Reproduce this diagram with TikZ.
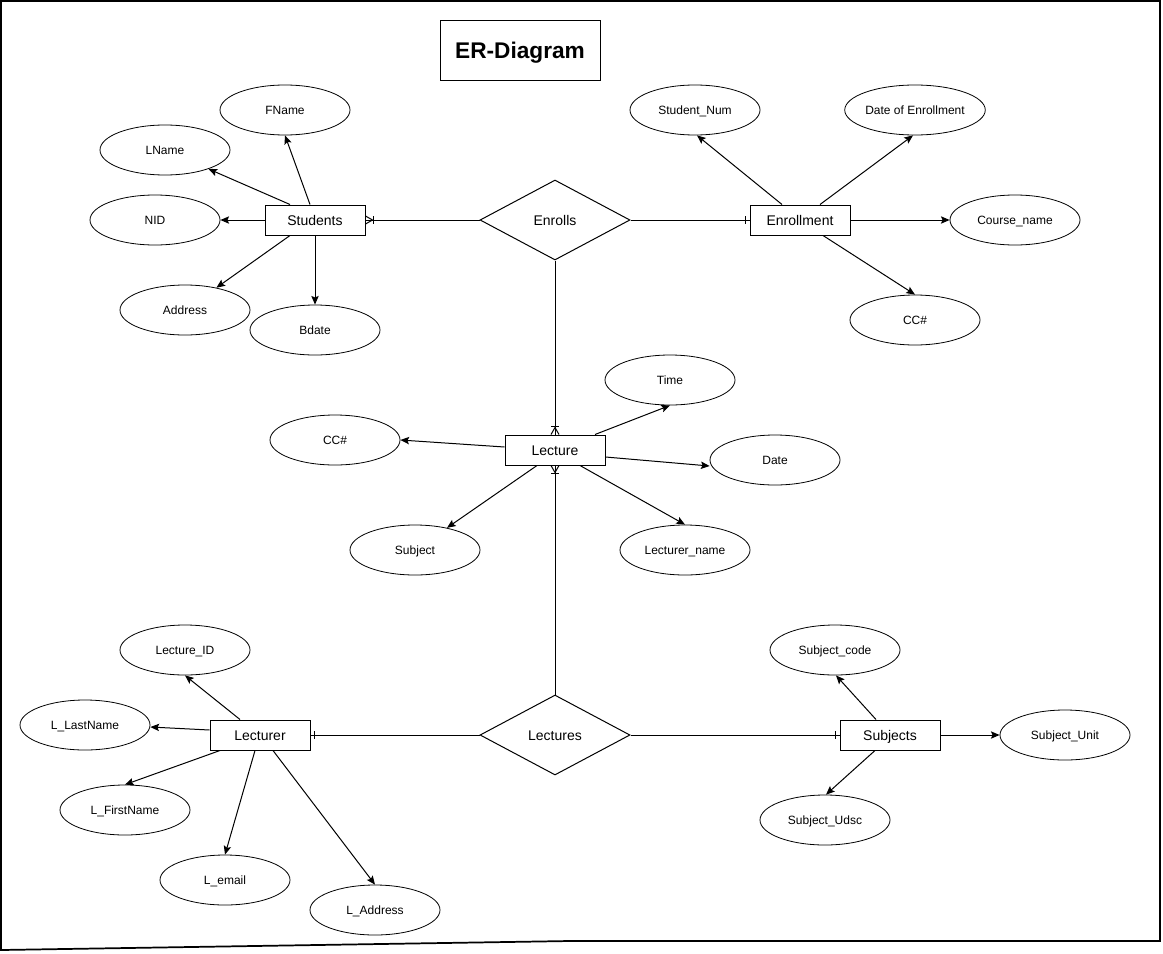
\documentclass[tikz,border=0pt]{standalone}
\usepackage{fontspec}
\setmainfont{Liberation Sans}
\usetikzlibrary{shapes.geometric,arrows.meta,calc}
\begin{document}
\begin{tikzpicture}[x=0.75pt,y=-0.75pt,
  ent/.style={draw, rectangle, minimum width=75pt, minimum height=22.5pt, inner sep=0pt, line width=0.75pt, text height=7.6pt, text depth=0pt, font=\fontsize{10.5}{12}\selectfont},
  attr/.style={draw, ellipse, minimum width=97.5pt, minimum height=37.5pt, inner sep=0pt, line width=0.6pt, text height=6.5pt, text depth=0pt, font=\fontsize{9}{11}\selectfont},
  rel/.style={draw, diamond, minimum width=112.5pt, minimum height=60pt, inner sep=0pt, line width=0.75pt, text height=7.6pt, text depth=0pt, font=\fontsize{10.5}{12}\selectfont},
  arr/.style={-{Stealth[length=6.5pt,width=5.5pt,inset=1.2pt]}, line width=0.75pt},
  lnk/.style={line width=0.75pt},
  ermk/.style={line width=0.75pt},
]
\useasboundingbox (0,0) rectangle (1163,953);
% outer frame
\draw[line width=1.3pt] (1,950) -- (570,941) -- (1160,941) -- (1160,1) -- (1,1) -- cycle;

% title
\node[draw, line width=0.75pt, minimum width=120pt, minimum height=45pt, inner sep=0pt, text height=12.3pt, text depth=0pt, font=\bfseries\fontsize{17}{20}\selectfont] (title) at (520,50) {ER-Diagram};

% entities
\node[ent] (stu) at (315,220) {Students};
\node[ent] (enm) at (800,220) {Enrollment};
\node[ent] (lec) at (555,450) {Lecture};
\node[ent] (ltr) at (260,735) {Lecturer};
\node[ent] (sub) at (890,735) {Subjects};

% relationships
\node[rel] (enr) at (555,220) {Enrolls};
\node[rel] (lcs) at (555,735) {Lectures};

% attributes
\node[attr] (fname) at (285,110) {FName};
\node[attr] (lname) at (165,150) {LName};
\node[attr] (nid) at (155,220) {NID};
\node[attr] (addr) at (185,310) {Address};
\node[attr] (bdate) at (315,330) {Bdate};

\node[attr] (snum) at (695,110) {Student\_Num};
\node[attr] (doe) at (915,110) {Date of Enrollment};
\node[attr] (cname) at (1015,220) {Course\_name};
\node[attr] (cca) at (915,320) {CC\#};

\node[attr] (time) at (670,380) {Time};
\node[attr] (ccb) at (335,440) {CC\#};
\node[attr] (date) at (775,460) {Date};
\node[attr] (subj) at (415,550) {Subject};
\node[attr] (lname2) at (685,550) {Lecturer\_name};

\node[attr] (lid) at (185,650) {Lecture\_ID};
\node[attr] (llast) at (85,725) {L\_LastName};
\node[attr] (lfirst) at (125,810) {L\_FirstName};
\node[attr] (lemail) at (225,880) {L\_email};
\node[attr] (laddr) at (375,910) {L\_Address};

\node[attr] (scode) at (835,650) {Subject\_code};
\node[attr] (sunit) at (1065,735) {Subject\_Unit};
\node[attr] (sudsc) at (825,820) {Subject\_Udsc};

% attribute arrows: Students
\draw[arr] ([shift={(-5,0)}]stu.north) -- (fname.south);
\draw[arr] ([shift={(-25,0)}]stu.north) -- (lname);
\draw[arr] (stu.west) -- (nid.east);
\draw[arr] ([shift={(-25,0)}]stu.south) -- (addr);
\draw[arr] (stu.south) -- (bdate.north);

% Enrollment
\draw[arr] ([shift={(-18,0)}]enm.north) -- ([shift={(2,0)}]snum.south);
\draw[arr] ([shift={(20,0)}]enm.north) -- ([shift={(-2,0)}]doe.south);
\draw[arr] (enm.east) -- (cname.west);
\draw[arr] ([shift={(23,0)}]enm.south) -- (cca.north);

% Lecture
\draw[arr] ([shift={(40,0)}]lec.north) -- (time.south);
\draw[arr] ([shift={(0,-3)}]lec.west) -- (ccb.east);
\draw[arr] ([shift={(0,7)}]lec.east) -- ([shift={(0,6)}]date.west);
\draw[arr] ([shift={(-18,0)}]lec.south) -- (subj);
\draw[arr] ([shift={(25,0)}]lec.south) -- (lname2.north);

% Lecturer
\draw[arr] ([shift={(-20,0)}]ltr.north) -- (lid.south);
\draw[arr] ([shift={(0,-5)}]ltr.west) -- ([shift={(0,2)}]llast.east);
\draw[arr] ([shift={(-40,0)}]ltr.south) -- (lfirst.north);
\draw[arr] ([shift={(-5,0)}]ltr.south) -- (lemail.north);
\draw[arr] ([shift={(13,0)}]ltr.south) -- (laddr.north);

% Subjects
\draw[arr] ([shift={(-14,0)}]sub.north) -- ([shift={(1,0)}]scode.south);
\draw[arr] (sub.east) -- (sunit.west);
\draw[arr] ([shift={(-15,0)}]sub.south) -- ([shift={(1,0)}]sudsc.north);

% relationship links
\draw[lnk] (enr.west) -- (stu.east);
\draw[lnk] (enr.east) -- (enm.west);
\draw[lnk] (enr.south) -- (lec.north);
\draw[lnk] (lcs.north) -- (lec.south);
\draw[lnk] (lcs.west) -- (ltr.east);
\draw[lnk] (lcs.east) -- (sub.west);

% crow's foot at Students
\draw[ermk] ([shift={(0,-4)}]stu.east) -- ([shift={(7,0)}]stu.east) -- ([shift={(0,4)}]stu.east);
\draw[ermk] ([shift={(8,-4)}]stu.east) -- ([shift={(8,4)}]stu.east);
% crow's foot at Lecture top
\draw[ermk] ([shift={(-4,0)}]lec.north) -- ([shift={(0,-7)}]lec.north) -- ([shift={(4,0)}]lec.north);
\draw[ermk] ([shift={(-4,-8)}]lec.north) -- ([shift={(4,-8)}]lec.north);
% crow's foot at Lecture bottom
\draw[ermk] ([shift={(-4,0)}]lec.south) -- ([shift={(0,7)}]lec.south) -- ([shift={(4,0)}]lec.south);
\draw[ermk] ([shift={(-4,8)}]lec.south) -- ([shift={(4,8)}]lec.south);
% single bars
\draw[ermk] ([shift={(-4,-4)}]enm.west) -- ([shift={(-4,4)}]enm.west);
\draw[ermk] ([shift={(4,-4)}]ltr.east) -- ([shift={(4,4)}]ltr.east);
\draw[ermk] ([shift={(-4,-4)}]sub.west) -- ([shift={(-4,4)}]sub.west);
\end{tikzpicture}
\end{document}
